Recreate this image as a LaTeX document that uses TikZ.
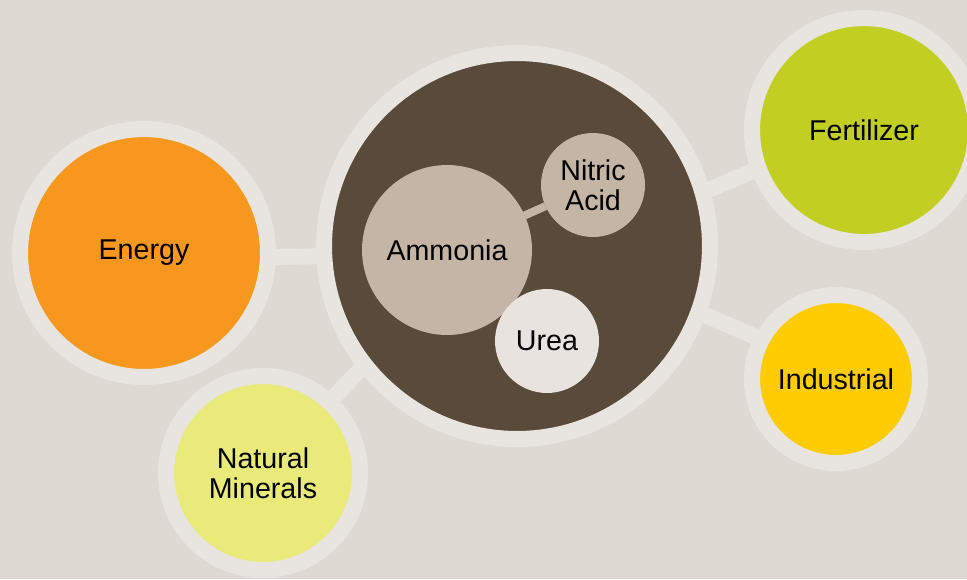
\documentclass[tikz,border=0pt]{standalone}
\usepackage{fontspec}
\setmainfont{Liberation Sans}
\usetikzlibrary{backgrounds}
\usepackage{xcolor}
\definecolor{Canvas}{HTML}{DFD9D4}
\definecolor{RingGray}{HTML}{E8E4DF}
\definecolor{CoreBrown}{HTML}{5A4A3A}
\definecolor{Taupe}{HTML}{C4B5A5}
\definecolor{UreaGray}{HTML}{E8E3DE}
\definecolor{EnergyOrange}{HTML}{F7971E}
\definecolor{FertLime}{HTML}{C2CF22}
\definecolor{MineralYellow}{HTML}{E9EA7A}
\definecolor{IndGold}{HTML}{FFCC00}

\begin{document}
\begin{tikzpicture}[
  x=0.02cm, y=-0.02cm,
  ringed/.style={circle, inner sep=0pt, outer sep=0pt, draw=RingGray, line width=0.32cm,
                 minimum size=#1, align=center, font=\fontsize{16.3}{16.8}\selectfont},
  inbub/.style={circle, inner sep=0pt, outer sep=0pt, fill=Taupe,
                minimum size=#1, align=center, font=\fontsize{16.3}{16.8}\selectfont},
  link/.style={line width=0.32cm, color=RingGray}
]
  \useasboundingbox (0,0) rectangle (967,579);

  \node[ringed=7.72cm, fill=CoreBrown]     (core)       at (517,246) {};
  \node[ringed=4.96cm, fill=EnergyOrange]  (energy)     at (144,253) {Energy};
  \node[ringed=3.88cm, fill=MineralYellow] (minerals)   at (263,473) {Natural\\Minerals};
  \node[ringed=4.48cm, fill=FertLime]      (fertilizer) at (864,130) {Fertilizer};
  \node[ringed=3.36cm, fill=IndGold]       (industrial) at (836,379) {Industrial};

  \node[inbub=3.4cm]                 (ammonia) at (447,250) {Ammonia};
  \node[inbub=2.08cm]                (nitric)  at (593,185) {Nitric\\Acid};
  \node[inbub=2.08cm, fill=UreaGray] (urea)    at (547,341) {Urea};
  \draw[line width=0.16cm, Taupe] (ammonia) -- (nitric);

  \begin{scope}[on background layer]
    \fill[Canvas] (0,0) rectangle (967,579);
    \draw[link] (energy.-2)     -- (core.183);
    \draw[link] (minerals.47)   -- (core.218);
    \draw[link] (fertilizer.200) -- (core.16);
    \draw[link] (industrial.152) -- (core.-20);
  \end{scope}
\end{tikzpicture}
\end{document}
